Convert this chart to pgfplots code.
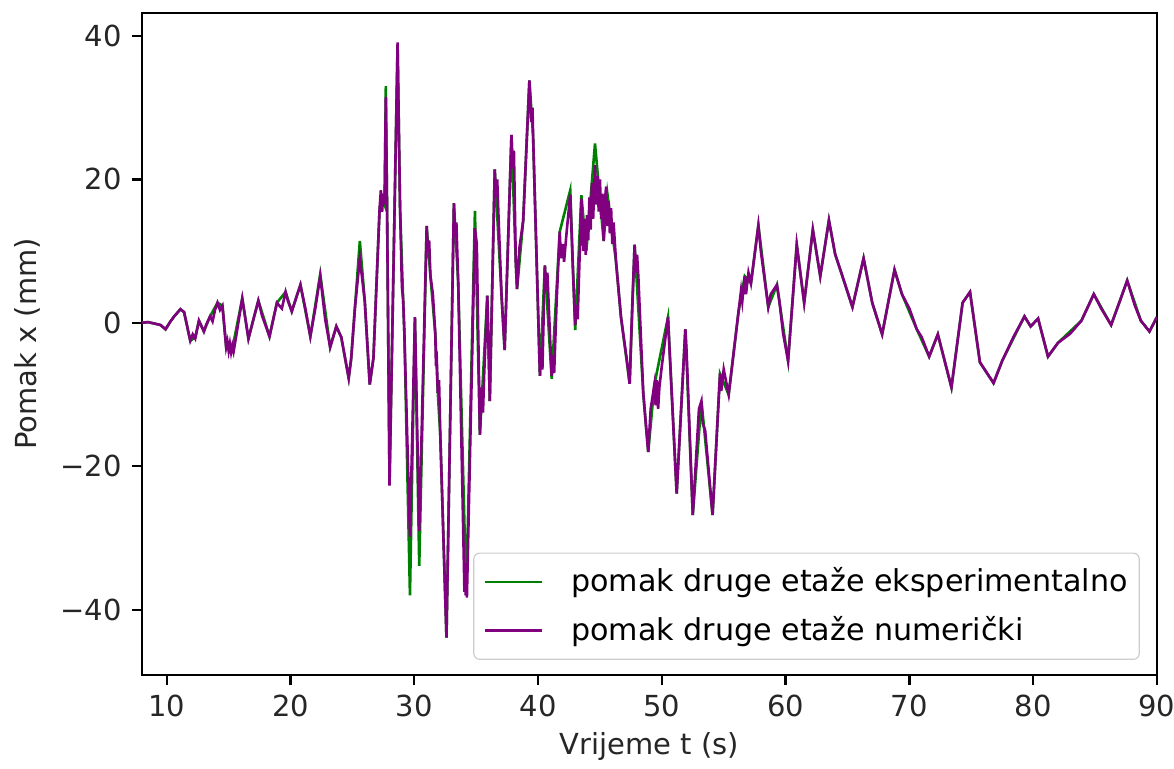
\documentclass[border=0pt]{standalone}
\usepackage{fontspec}
\setmainfont{DejaVu Sans}
\usepackage{pgfplots}
\usepackage{pgfplotstable}
\pgfplotsset{compat=1.18}
\definecolor{mplgreen}{RGB}{0,128,0}
\definecolor{mplpurple}{RGB}{128,0,128}

\pgfplotstableread{
x y
7.9 0
8.5 0.1
9.0 -0.1
9.5 -0.3
9.9 -0.9
10.3 0.2
10.6 0.9
11.1 1.9
11.4 1.5
11.9 -2.5
12.1 -1.6
12.3 -2.2
12.6 0.3
13.0 -1.2
13.2 -0.2
13.5 0.9
13.7 0.2
13.9 1.8
14.1 2.8
14.3 1.8
14.5 2.4
14.8 -3.4
14.9 -2.6
15.0 -3.9
15.1 -2.9
15.2 -4.1
15.3 -3.2
15.4 -4.0
15.5 -3.0
16.1 3.4
16.6 -2.2
17.0 0.5
17.4 3.1
17.7 1.0
18.3 -1.9
18.9 2.8
19.3 2.0
19.6 4.3
19.8 3.0
20.1 1.6
20.4 3.2
20.8 5.3
21.2 2.0
21.6 -1.9
22.0 2.0
22.4 6.5
22.8 0.5
23.2 -3.4
23.7 -0.5
24.1 -2.0
24.7 -7.7
24.9 -5.0
25.2 2.0
25.6 9.0
26.0 3.0
26.4 -8.6
26.7 -4.9
27.2 16.0
27.3 18.5
27.4 15.5
27.5 18.0
27.6 16.5
27.7 31.5
27.8 16.0
28.0 -22.7
28.65 39.1
28.85 16.0
29.0 5.0
29.1 3.2
29.2 -1.5
29.65 -29.8
30.05 0.8
30.4 -29.0
31.0 13.5
31.1 10.0
31.2 11.5
31.3 6.6
31.5 4.0
31.7 -1.6
31.75 -6.0
31.8 -4.0
31.9 -9.8
32.0 -8.0
32.1 -15.6
32.6 -43.9
33.2 16.7
33.3 12.0
33.4 14.0
33.55 5.5
34.0 -33.0
34.05 -37.5
34.1 -33.5
34.15 -38.0
34.2 -34.0
34.25 -38.3
34.9 13.2
35.05 11.0
35.3 -15.6
35.45 -9.0
35.55 -12.5
35.65 -7.0
35.9 3.8
36.1 -10.9
36.5 21.4
36.6 17.5
36.7 20.0
36.8 15.0
37.05 3.8
37.3 -3.8
37.85 26.2
37.95 21.5
38.05 24.0
38.2 8.5
38.3 4.7
38.5 10.5
38.8 14.3
39.3 33.8
39.45 28.0
39.55 30.0
39.6 26.0
40.15 -7.4
40.25 -3.5
40.35 -6.5
40.55 8.0
40.65 4.5
40.75 7.0
41.1 -7.4
41.2 -4.5
41.3 -7.0
41.5 3.0
41.75 12.7
41.85 9.0
42.0 11.0
42.1 8.5
42.3 12.5
42.6 17.9
42.8 8.0
43.0 -0.3
43.1 2.5
43.2 0.5
43.5 17.3
43.65 10.0
43.75 14.5
43.85 9.5
43.95 15.0
44.05 11.5
44.15 17.5
44.25 13.0
44.35 19.5
44.45 14.5
44.6 22.0
44.7 16.5
44.8 20.5
44.9 15.5
45.0 20.0
45.1 14.5
45.2 18.0
45.3 11.4
45.4 17.0
45.5 19.0
45.6 13.5
45.7 17.0
45.8 12.5
45.9 16.0
46.0 11.0
46.1 14.0
46.3 8.5
46.7 0.8
47.0 -3.0
47.2 -5.5
47.4 -8.5
47.6 2.0
47.8 10.9
47.9 7.0
48.0 9.5
48.1 6.5
48.5 -9.8
48.7 -14.0
48.9 -18.0
49.1 -12.0
49.4 -8.6
49.5 -11.5
49.6 -8.0
49.7 -12.0
49.8 -9.0
50.0 -6.0
50.5 0.8
50.6 -3.0
51.2 -23.8
51.9 -0.9
52.0 -4.0
52.5 -26.8
53.0 -12.0
53.2 -10.9
53.3 -14.0
53.5 -15.0
54.1 -26.8
54.7 -7.1
54.8 -9.5
55.0 -6.5
55.4 -10.0
56.2 1.6
56.4 4.5
56.5 3.0
56.7 6.5
56.8 4.0
57.0 7.0
57.2 5.5
57.8 13.6
58.0 10.0
58.6 2.2
58.8 4.0
59.3 5.3
59.5 3.0
59.8 -1.5
60.2 -5.3
60.9 10.9
61.5 2.8
62.2 13.0
62.8 6.5
63.5 14.3
64.0 9.6
64.5 7.0
65.4 2.2
66.3 9.0
67.0 2.8
67.8 -1.6
68.8 7.4
69.4 4.0
70.0 2.0
70.6 -0.9
71.0 -2.0
71.6 -4.7
72.3 -1.6
73.4 -9.0
74.3 2.8
74.9 4.3
75.7 -5.5
76.8 -8.4
77.5 -5.3
78.4 -2.0
79.3 0.9
79.8 -0.5
80.4 0.6
81.2 -4.7
82.0 -2.8
83.0 -1.5
83.9 0.3
84.9 4.0
85.5 2.0
86.3 -0.3
87.0 3.0
87.6 5.9
88.2 2.5
88.7 0.3
89.4 -1.2
90.0 0.8
}\numtable

\pgfplotstableread{
x y
7.9 0
8.5 0.1
9.0 -0.1
9.5 -0.3
9.9 -0.9
10.3 0.2
10.6 0.9
11.1 1.9
11.4 1.5
11.9 -2.5
12.3 -2.0
12.6 0.3
13.0 -1.2
13.5 0.9
14.1 2.8
14.5 2.4
14.8 -3.4
15.3 -3.6
16.1 3.4
16.6 -2.2
17.4 3.1
18.3 -1.9
18.9 2.8
19.6 4.3
20.1 1.6
20.8 5.3
21.6 -1.9
22.4 6.8
23.2 -3.4
23.7 -0.5
24.1 -2.0
24.7 -7.7
24.9 -5.0
25.6 11.4
26.0 3.0
26.4 -8.6
26.7 -4.9
27.2 16.0
27.4 17.5
27.6 16.5
27.7 33.0
27.8 16.0
28.0 -22.0
28.65 38.5
28.85 16.0
29.1 3.2
29.2 -1.5
29.65 -38.0
30.05 0.8
30.4 -33.9
31.0 13.5
31.3 6.6
31.7 -1.6
31.9 -9.8
32.1 -15.6
32.6 -43.9
33.2 16.7
33.55 5.5
34.2 -38.0
34.9 15.6
35.3 -15.6
35.9 3.8
36.1 -10.9
36.5 21.4
37.05 3.8
37.3 -3.8
37.85 26.2
38.2 8.5
38.3 4.7
38.8 14.3
39.3 33.8
39.6 26.0
40.15 -7.4
40.55 8.0
41.1 -7.8
41.75 12.7
42.6 18.5
43.0 -1.0
43.5 17.8
43.9 10.0
44.6 25.0
45.3 11.4
45.6 18.0
46.3 8.5
46.7 0.8
47.4 -8.5
47.8 10.9
48.5 -9.8
48.9 -18.0
49.4 -8.6
50.5 0.8
51.2 -23.8
51.9 -0.9
52.5 -26.8
53.2 -10.9
54.1 -26.8
54.7 -7.1
55.4 -10.0
56.2 1.6
56.7 6.5
57.2 5.5
57.8 13.6
58.6 2.2
59.3 5.3
60.2 -5.3
60.9 10.9
61.5 2.8
62.2 13.0
62.8 6.5
63.5 14.3
64.0 9.6
65.4 2.2
66.3 9.0
67.0 2.8
67.8 -1.6
68.8 7.4
69.4 4.0
70.6 -0.9
71.6 -4.7
72.3 -1.6
73.4 -9.0
74.3 2.8
74.9 4.3
75.7 -5.5
76.8 -8.4
77.5 -5.3
79.3 0.9
79.8 -0.5
80.4 0.6
81.2 -4.7
82.0 -2.8
83.9 0.3
84.9 4.0
86.3 -0.3
87.6 5.9
88.7 0.3
89.4 -1.2
90.0 0.8
}\exptable

\begin{document}
\begin{tikzpicture}
\begin{axis}[
  scale only axis,
  width=350.2pt, height=228.4pt,
  xmin=8, xmax=90, ymin=-49.1, ymax=43.2,
  xtick={10,20,30,40,50,60,70,80,90},
  xticklabels={10,20,30,40,50,60,70,80,90},
  ytick={-40,-20,0,20,40},
  yticklabels={−40,−20,0,20,40},
  tick align=outside,
  tick pos=left,
  major tick length=3.5pt,
  every tick/.style={black, line width=0.8pt},
  axis line style={line width=0.8pt},
  tick label style={font=\fontsize{10}{12}\selectfont, text=black!85},
  label style={font=\fontsize{10}{12}\selectfont, text=black!85},
  xlabel={Vrijeme t (s)},
  ylabel={Pomak x (mm)},
  x label style={at={(axis description cs:0.5,-0.108)}, anchor=center},
  y label style={at={(axis description cs:-0.1134,0.5)}, anchor=center},
  legend cell align=left,
  legend image code/.code={\draw[#1, line width=0.9pt] (0pt,0pt) -- (19.7pt,0pt);},
  legend style={
    at={(1,0)}, anchor=south east, xshift=-5.9pt, yshift=5.2pt,
    draw=black!20, rounded corners=2pt, fill=white, fill opacity=0.8,
    text opacity=1, font=\fontsize{10.4}{12.5}\selectfont,
    inner xsep=3.5pt, inner ysep=3pt, row sep=3pt,
    nodes={inner xsep=0.5pt},
    /tikz/every odd column/.append style={column sep=9pt},
  },
]
\addplot[mplgreen, line width=0.9pt] table[x=x,y=y] {\exptable};
\addlegendentry{pomak druge etaže eksperimentalno}
\addplot[mplpurple, line width=0.9pt] table[x=x,y=y] {\numtable};
\addlegendentry{pomak druge etaže numerički}
\end{axis}
\pgfresetboundingbox
\useasboundingbox ([xshift=-49pt,yshift=-32.4pt]current axis.south west) rectangle ([xshift=5.9pt,yshift=4.5pt]current axis.north east);
\end{tikzpicture}
\end{document}
